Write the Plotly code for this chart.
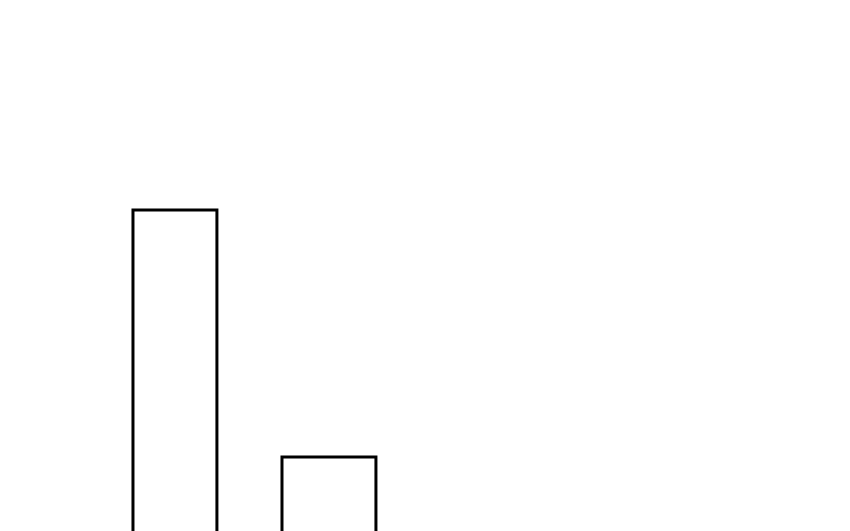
import plotly.graph_objects as go

categories = ["A", "B"]
values = [10, 3]
widths = [0.545, 0.61]

fig = go.Figure(
    go.Bar(
        x=categories,
        y=values,
        width=widths,
        marker=dict(color="white", line=dict(color="black", width=3)),
    )
)
fig.update_layout(
    width=850,
    height=531,
    margin=dict(l=0, r=0, t=0, b=0),
    paper_bgcolor="white",
    plot_bgcolor="white",
    showlegend=False,
    xaxis=dict(range=[-1.084, 4.435], visible=False, showgrid=False, zeroline=False),
    yaxis=dict(range=[0.674, 15.724], visible=False, showgrid=False, zeroline=False),
)
fig.write_html("out.html")
